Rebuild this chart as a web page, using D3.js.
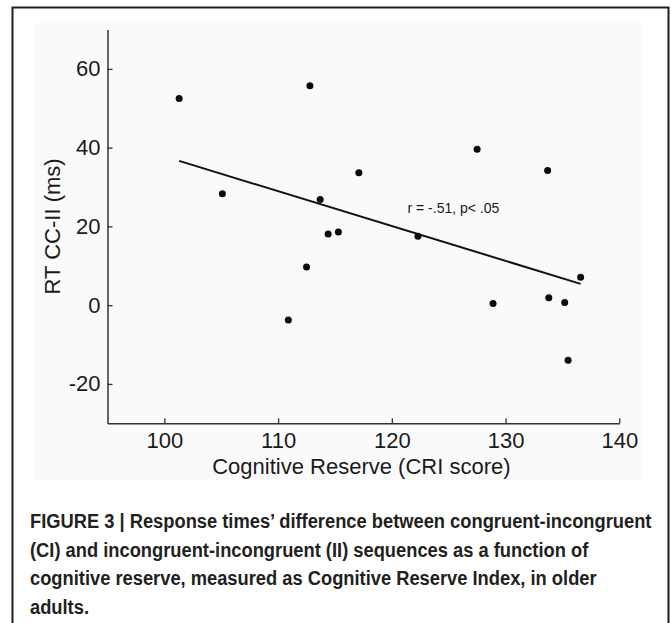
<!DOCTYPE html>
<html>
<head>
<meta charset="utf-8">
<script src="https://cdn.jsdelivr.net/npm/d3@7"></script>
<style>
  html, body { margin: 0; padding: 0; background: #ffffff; }
  svg { display: block; }
</style>
</head>
<body>
<svg id="chart" width="671" height="623"></svg>
<script>
// ---- data ----
const cri = [101.3, 112.8, 117.1, 105.1, 113.7, 114.4, 115.3, 112.5, 110.9, 127.5, 133.7, 122.3, 136.6, 128.9, 133.8, 135.2, 135.5];
const rtDiff = [52.5, 55.7, 33.6, 28.3, 26.8, 18.1, 18.6, 9.7, -3.8, 39.6, 34.2, 17.5, 7.1, 0.4, 1.9, 0.7, -14.0];
const xTicks = [100, 110, 120, 130, 140];
const yTicks = [-20, 0, 20, 40, 60];
const xDomain = [95, 140];
const yDomain = [-30, 70];
const xTitle = "Cognitive Reserve (CRI score)";
const yTitle = "RT CC-II (ms)";
const annotation = "r = -.51, p< .05";
const captionLines = [
  "FIGURE 3 | Response times\u2019 difference between congruent-incongruent",
  "(CI) and incongruent-incongruent (II) sequences as a function of",
  "cognitive reserve, measured as Cognitive Reserve Index, in older",
  "adults."
];

// ---- layout ----
const svg = d3.select("#chart");
const plot = { left: 107.5, right: 619.3, top: 29.5, bottom: 423.3 };
const font = "'Liberation Sans', Arial, Helvetica, sans-serif";
const textColor = "#1a1a1a";
const fmt = d => String(d);

// outer frame
svg.append("rect")
  .attr("x", 12.5).attr("y", 7.5)
  .attr("width", 656).attr("height", 640)
  .attr("fill", "#ffffff").attr("stroke", "#1e1e1e").attr("stroke-width", 2);

// light figure background
svg.append("rect")
  .attr("x", 33).attr("y", 23).attr("width", 608).attr("height", 457)
  .attr("fill", "#fafafa");

const x = d3.scaleLinear().domain(xDomain).range([plot.left, plot.right]);
const y = d3.scaleLinear().domain(yDomain).range([plot.bottom, plot.top]);

const axisColor = "#333333";

// x axis
const gx = svg.append("g")
  .attr("transform", `translate(0,${plot.bottom})`)
  .call(d3.axisBottom(x).tickValues(xTicks).tickFormat(fmt)
    .tickSizeInner(-5).tickSizeOuter(0).tickPadding(9));
gx.select(".domain").attr("stroke", axisColor).attr("stroke-width", 1.5);
gx.selectAll(".tick line").attr("stroke", axisColor).attr("stroke-width", 1.3);
gx.selectAll(".tick text").attr("font-family", font).attr("font-size", 22).attr("fill", textColor);

// y axis
const gy = svg.append("g")
  .attr("transform", `translate(${plot.left},0)`)
  .call(d3.axisLeft(y).tickValues(yTicks).tickFormat(fmt)
    .tickSizeInner(-5).tickSizeOuter(0).tickPadding(7));
gy.select(".domain").attr("stroke", axisColor).attr("stroke-width", 1.5);
gy.selectAll(".tick line").attr("stroke", axisColor).attr("stroke-width", 1.3);
gy.selectAll(".tick text").attr("font-family", font).attr("font-size", 22).attr("fill", textColor);

// axis titles
svg.append("text")
  .attr("x", (plot.left + plot.right) / 2 - 2).attr("y", 474)
  .attr("text-anchor", "middle")
  .attr("font-family", font).attr("font-size", 22).attr("fill", textColor)
  .text(xTitle);

svg.append("text")
  .attr("transform", `translate(60,${(plot.top + plot.bottom) / 2}) rotate(-90)`)
  .attr("text-anchor", "middle")
  .attr("font-family", font).attr("font-size", 22).attr("fill", textColor)
  .text(yTitle);

// least-squares regression line
const n = cri.length;
const mx = d3.mean(cri), my = d3.mean(rtDiff);
let sxy = 0, sxx = 0;
for (let i = 0; i < n; i++) { sxy += (cri[i] - mx) * (rtDiff[i] - my); sxx += (cri[i] - mx) ** 2; }
const slope = sxy / sxx, intercept = my - slope * mx;
const xExt = d3.extent(cri);
svg.append("line")
  .attr("x1", x(xExt[0])).attr("y1", y(intercept + slope * xExt[0]))
  .attr("x2", x(xExt[1])).attr("y2", y(intercept + slope * xExt[1]))
  .attr("stroke", "#111").attr("stroke-width", 2);

// points
svg.append("g").selectAll("circle")
  .data(cri.map((c, i) => [c, rtDiff[i]]))
  .join("circle")
  .attr("cx", d => x(d[0])).attr("cy", d => y(d[1]))
  .attr("r", 3.5).attr("fill", "#0a0a0a");

// annotation
svg.append("text")
  .attr("x", 407.5).attr("y", 213)
  .attr("font-family", font).attr("font-size", 14).attr("fill", textColor)
  .text(annotation);

// caption (bold, condensed look via horizontal scaling)
const cap = svg.append("g");
const capSize = 21;
const texts = cap.selectAll("text")
  .data(captionLines)
  .join("text")
  .attr("x", 0).attr("y", 0)
  .attr("font-family", font).attr("font-weight", "bold")
  .attr("font-size", capSize).attr("fill", "#231f20")
  .text(d => d);
const natural = texts.nodes().map(nd => nd.getComputedTextLength());
const squeeze = 622 / natural[0];
texts.attr("transform", (d, i) => `translate(30,${528 + i * 28.5}) scale(${squeeze},1)`);
</script>
</body>
</html>
